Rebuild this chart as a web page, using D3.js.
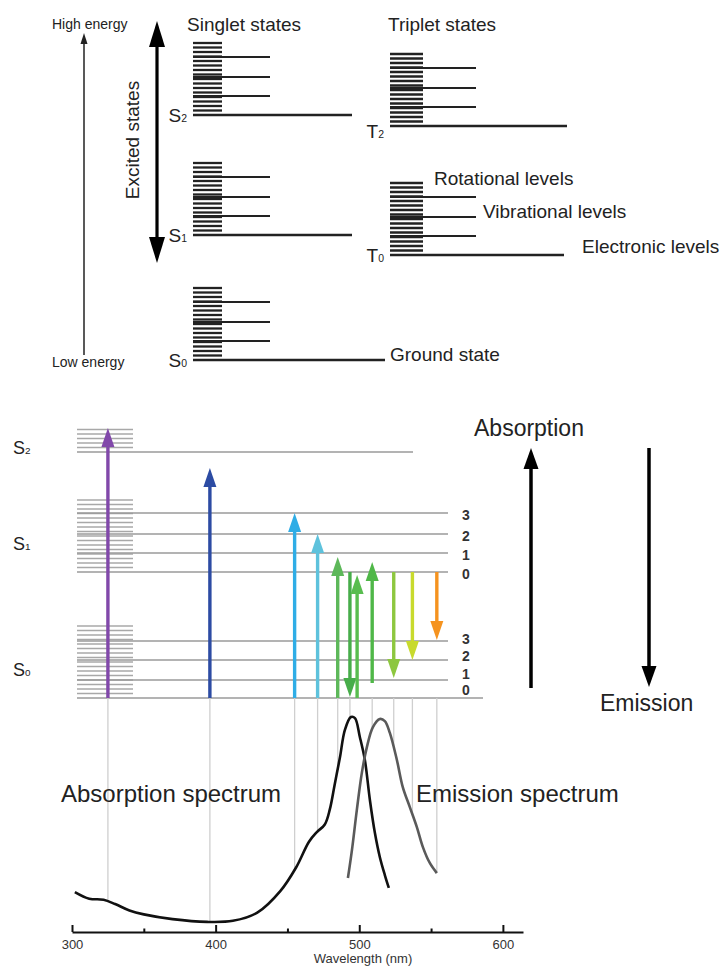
<!DOCTYPE html>
<html>
<head>
<meta charset="utf-8">
<script src="https://cdn.jsdelivr.net/npm/d3@7"></script>
<style>
  body { margin: 0; background: #fff; }
  svg { display: block; font-family: "Liberation Sans", Arial, Helvetica, sans-serif; }
</style>
</head>
<body>
<svg id="chart" width="721" height="970"></svg>
<script>
// ---------- data ----------
// top diagram: electronic states, energy in arbitrary units
const topStates = ["S2", "S1", "S0", "T2", "T0"];
const topEnergy = [245, 125, 0, 234, 105];
const topSpin = ["singlet", "singlet", "singlet", "triplet", "triplet"];
const topVibOffsets = [19, 38, 58];
const topRotSpan = 73;

// bottom diagram: states, vibrational levels
const botStates = ["S2", "S1", "S0"];
const botEnergy = [246, 126, 0];
const botVibOffsets = [[], [19, 38, 59], [18, 38, 57]];
const botRotSpan = [25, 73, 72];
const vibLabels = ["0", "1", "2", "3"];

// transitions (wavelength in nm, energies in same units as botEnergy)
const transWavelength = [325, 396, 455, 471, 485, 493.5, 498.5, 509, 524, 537, 554];
const transFrom = [0, 0, 0, 0, 0, 126, 0, 15, 126, 126, 126];
const transTo = [270, 230, 185, 164, 141, 1, 123, 136, 20, 38, 58];
const transColor = ["#8148aa", "#2c4ba3", "#2fade6", "#5ec2dc", "#5db85a", "#47ad4a",
                    "#58bd4f", "#4fb748", "#8dc73f", "#c8da2d", "#f5931f"];

// vertical guide lines down to the spectra
const dropWavelength = [325, 396, 455, 471, 485, 493.5, 509, 524, 537, 554];
const dropCurve = ["abs", "abs", "abs", "abs", "abs", "abs", "em", "em", "em", "em"];

// spectra (normalised intensity)
const absWl = [302, 312, 322, 330, 340, 350, 370, 394, 412, 429, 445, 456, 465, 470.5, 476,
               479.5, 483, 486.5, 490, 494.2, 497, 500.4, 503.9, 507.4, 510.9, 514.3, 517.8, 520.6];
const absVal = [0.186, 0.155, 0.150, 0.130, 0.100, 0.082, 0.060, 0.047, 0.052, 0.090, 0.19, 0.30,
                0.42, 0.465, 0.50, 0.57, 0.69, 0.81, 0.94, 1.0, 0.995, 0.907, 0.80, 0.614, 0.46,
                0.349, 0.265, 0.205];
const emWl = [492.1, 494.9, 498.3, 501.8, 505.3, 509.5, 514.3, 517.8, 521.3, 526.2, 530.3, 535.2,
              540.1, 544.3, 549.1, 554];
const emVal = [0.251, 0.381, 0.567, 0.740, 0.860, 0.953, 0.991, 0.981, 0.926, 0.800, 0.674, 0.581,
               0.488, 0.395, 0.321, 0.274];

const majorTicks = [300, 400, 500, 600];
const minorTicks = [350, 450, 550];

// ---------- setup ----------
const svg = d3.select("#chart");
const ink = "#222";
svg.append("rect").attr("width", 721).attr("height", 970).attr("fill", "#fff");

function arrow(g, x, y1, y2, color, w, headW, headL) {
  // y1 = tail, y2 = tip
  const dir = y2 < y1 ? 1 : -1;
  g.append("line")
    .attr("x1", x).attr("x2", x)
    .attr("y1", y1).attr("y2", y2 + dir * headL * 0.8)
    .attr("stroke", color).attr("stroke-width", w);
  g.append("path")
    .attr("d", `M${x},${y2} L${x - headW / 2},${y2 + dir * headL} L${x + headW / 2},${y2 + dir * headL} Z`)
    .attr("fill", color);
}

function stateLabel(g, x, y, letter, sub, size, anchor) {
  const t = g.append("text").attr("x", x).attr("y", y).attr("fill", ink)
    .attr("font-size", size).attr("text-anchor", anchor || "end");
  t.append("tspan").text(letter);
  t.append("tspan").attr("font-size", size * 0.55).text(sub);
}

// ---------- top diagram ----------
const gTop = svg.append("g");
const yTop = d3.scaleLinear().domain([0, 340]).range([360, 20]);
const colX = d3.scaleOrdinal().domain(["singlet", "triplet"]).range([193, 390]);
const colLayout = { singlet: { rot: 29, vib: 77 }, triplet: { rot: 33, vib: 86 } };
const elecLen = { S2: 159, S1: 159, S0: 192, T2: 177, T0: 174 };

topStates.forEach((s, i) => {
  const x0 = colX(topSpin[i]);
  const lay = colLayout[topSpin[i]];
  const e0 = topEnergy[i];
  d3.range(e0 + 4.5, e0 + topRotSpan + 0.1, 4.5).forEach(e => {
    gTop.append("line").attr("x1", x0).attr("x2", x0 + lay.rot)
      .attr("y1", yTop(e)).attr("y2", yTop(e))
      .attr("stroke", ink).attr("stroke-width", 2.3);
  });
  topVibOffsets.forEach(o => {
    gTop.append("line").attr("x1", x0).attr("x2", x0 + lay.vib)
      .attr("y1", yTop(e0 + o)).attr("y2", yTop(e0 + o))
      .attr("stroke", ink).attr("stroke-width", 2);
  });
  gTop.append("line").attr("x1", x0).attr("x2", x0 + elecLen[s])
    .attr("y1", yTop(e0)).attr("y2", yTop(e0))
    .attr("stroke", ink).attr("stroke-width", 2.4);
  const dy = s === "T2" ? 12 : 7;
  stateLabel(gTop, x0 - 6, yTop(e0) + dy, s[0], s[1], 19);
});

gTop.append("text").attr("x", 187).attr("y", 31).attr("font-size", 19).attr("fill", ink).text("Singlet states");
gTop.append("text").attr("x", 388).attr("y", 31).attr("font-size", 19).attr("fill", ink).text("Triplet states");
gTop.append("text").attr("x", 434).attr("y", 185).attr("font-size", 19).attr("fill", ink).text("Rotational levels");
gTop.append("text").attr("x", 483).attr("y", 218).attr("font-size", 19).attr("fill", ink).text("Vibrational levels");
gTop.append("text").attr("x", 582).attr("y", 253).attr("font-size", 19).attr("fill", ink).text("Electronic levels");
gTop.append("text").attr("x", 390).attr("y", 361).attr("font-size", 19).attr("fill", ink).text("Ground state");

// energy axis on the left
arrow(gTop, 84, 355, 33, ink, 1.5, 7, 11);
gTop.append("text").attr("x", 52).attr("y", 29).attr("font-size", 14).attr("fill", ink).text("High energy");
gTop.append("text").attr("x", 52).attr("y", 367).attr("font-size", 14).attr("fill", ink).text("Low energy");

// excited states double arrow
arrow(gTop, 157, 140, 21, "#000", 3.2, 16, 26);
arrow(gTop, 157, 140, 263, "#000", 3.2, 16, 26);
gTop.append("text").attr("transform", "translate(139,140) rotate(-90)")
  .attr("text-anchor", "middle").attr("font-size", 19).attr("fill", ink).text("Excited states");

// ---------- bottom diagram ----------
const gBot = svg.append("g");
const yBot = d3.scaleLinear().domain([0, 280]).range([698, 418]);
const x = d3.scaleLinear().domain([300, 614]).range([72, 523]);
const yInt = d3.scaleLinear().domain([0, 1]).range([932, 717]);
const gray = "#9a9a9a";
const stackX0 = 77, stackX1 = 133;

botStates.forEach((s, i) => {
  const e0 = botEnergy[i];
  d3.range(e0 + 4.5, e0 + botRotSpan[i] + 0.1, 4.5).forEach(e => {
    gBot.append("line").attr("x1", stackX0).attr("x2", stackX1)
      .attr("y1", yBot(e)).attr("y2", yBot(e))
      .attr("stroke", "#a8a8a8").attr("stroke-width", 1.5);
  });
  const levels = [0].concat(botVibOffsets[i]);
  levels.forEach((o, v) => {
    let x2 = 448;
    if (s === "S2") x2 = 413;
    if (s === "S0" && v === 0) x2 = 483;
    gBot.append("line").attr("x1", stackX0).attr("x2", x2)
      .attr("y1", yBot(e0 + o)).attr("y2", yBot(e0 + o))
      .attr("stroke", gray).attr("stroke-width", 1.6);
    if (botVibOffsets[i].length) {
      const ly = s === "S0" ? yBot(e0 + o) - 2 - (3 - v) * 2 : yBot(e0 + o) + 2;
      gBot.append("text").attr("x", 466).attr("y", ly).attr("dy", "0.35em")
        .attr("text-anchor", "middle").attr("font-size", 14).attr("font-weight", "bold")
        .attr("fill", "#333").text(vibLabels[v]);
    }
  });
  const mid = (yBot(e0) + yBot(e0 + botRotSpan[i])) / 2;
  stateLabel(gBot, 13, mid + 14, s[0], s[1], 18, "start");
});

// interpolation helper for drop lines
function valueAt(wl, xs, ys) {
  const j = Math.max(1, Math.min(xs.length - 1, d3.bisectLeft(xs, wl)));
  const t = (wl - xs[j - 1]) / (xs[j] - xs[j - 1]);
  return ys[j - 1] + t * (ys[j] - ys[j - 1]);
}

dropWavelength.forEach((wl, i) => {
  const v = dropCurve[i] === "abs" ? valueAt(wl, absWl, absVal) : valueAt(wl, emWl, emVal);
  gBot.append("line").attr("x1", x(wl)).attr("x2", x(wl))
    .attr("y1", yBot(0)).attr("y2", yInt(v))
    .attr("stroke", "#cfcfcf").attr("stroke-width", 1.3);
});

transWavelength.forEach((wl, i) => {
  arrow(gBot, x(wl), yBot(transFrom[i]), yBot(transTo[i]), transColor[i], 3.4, 13, 19);
});

// absorption / emission direction arrows
arrow(gBot, 531, 688, 448, "#000", 3.5, 15, 21);
arrow(gBot, 649, 448, 687, "#000", 3.5, 15, 21);
gBot.append("text").attr("x", 474).attr("y", 436).attr("font-size", 23).attr("fill", ink).text("Absorption");
gBot.append("text").attr("x", 600).attr("y", 711).attr("font-size", 23).attr("fill", ink).text("Emission");

// ---------- spectra ----------
const spec = svg.append("g");
const line = d3.line().x(d => x(d[0])).y(d => yInt(d[1])).curve(d3.curveCatmullRom.alpha(0.5));
spec.append("path").datum(d3.zip(absWl, absVal)).attr("d", line)
  .attr("fill", "none").attr("stroke", "#111").attr("stroke-width", 2.6);
spec.append("path").datum(d3.zip(emWl, emVal)).attr("d", line)
  .attr("fill", "none").attr("stroke", "#5a5a5a").attr("stroke-width", 2.6);

spec.append("text").attr("x", 61).attr("y", 802).attr("font-size", 24).attr("fill", ink).text("Absorption spectrum");
spec.append("text").attr("x", 416).attr("y", 802).attr("font-size", 24).attr("fill", ink).text("Emission spectrum");

// axis
const axis = spec.append("g").attr("transform", "translate(0,932)")
  .call(d3.axisBottom(x).tickValues(majorTicks).tickSizeInner(-7).tickSizeOuter(0).tickPadding(8));
axis.select(".domain").attr("stroke", "#111").attr("stroke-width", 2);
axis.selectAll(".tick line").attr("stroke", "#111").attr("stroke-width", 2);
axis.selectAll(".tick text").attr("font-size", 13).attr("fill", "#333")
  .attr("font-family", "Liberation Sans, Arial, sans-serif");
const minor = spec.append("g").attr("transform", "translate(0,932)")
  .call(d3.axisBottom(x).tickValues(minorTicks).tickSize(-3.5).tickFormat(""));
minor.select(".domain").remove();
minor.selectAll(".tick line").attr("stroke", "#111").attr("stroke-width", 2);

spec.append("text").attr("x", 363).attr("y", 963).attr("text-anchor", "middle")
  .attr("font-size", 13).attr("fill", "#333").text("Wavelength (nm)");
</script>
</body>
</html>
